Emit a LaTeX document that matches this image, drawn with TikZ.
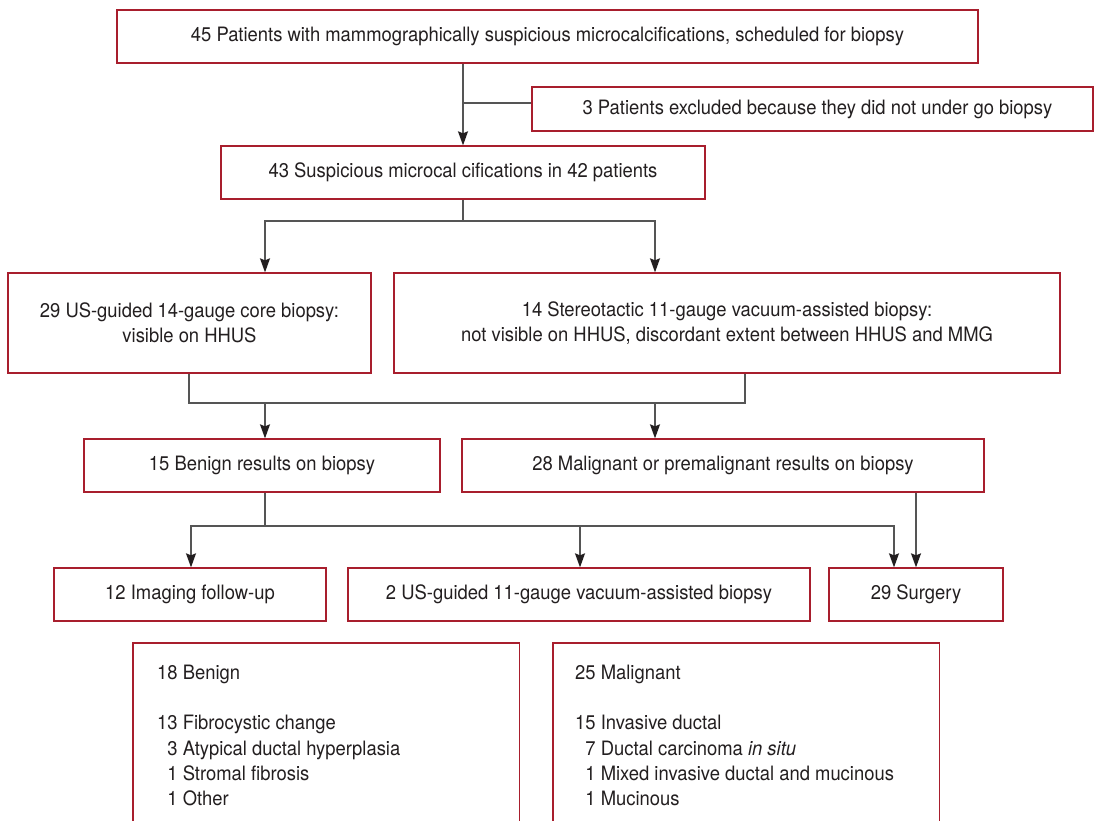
\documentclass[tikz,border=0pt]{standalone}
\usepackage{fontspec}
\setmainfont{TeX Gyre Heros}[FakeStretch=0.93]
\usetikzlibrary{arrows.meta}
\definecolor{boxred}{RGB}{168,30,45}
\definecolor{txt}{RGB}{35,31,32}
\definecolor{conncol}{RGB}{85,85,85}
\begin{document}
\begin{tikzpicture}[x=1pt,y=-1pt,
  box/.style={draw=boxred,line width=1.3pt,text=txt,inner sep=0pt,align=center,
    font=\fontsize{19.8}{25.3}\selectfont},
  lst/.style={text=txt,inner sep=0pt,align=left,font=\fontsize{19.8}{25.3}\selectfont},
  conn/.style={draw=conncol,line width=1.3pt},
  arr/.style={conn,-{Stealth[length=14pt,width=10pt,inset=2pt,color=txt]}},
  ]
\useasboundingbox (0,0) rectangle (1096,821);
\clip (0,0) rectangle (1096,821);
\fill[white] (0,0) rectangle (1096,821);

% boxes
\node[box,minimum width=861pt,minimum height=53pt] (top) at (547.5,36.5)
  {45 Patients with mammographically suspicious microcalcifications, scheduled for biopsy};
\node[box,minimum width=561pt,minimum height=44pt] (excl) at (812.5,109)
  {\hspace*{10pt}3 Patients excluded because they did not under go biopsy};
\node[box,minimum width=484pt,minimum height=53pt] (box2) at (463,172.5)
  {43 Suspicious microcal cifications in 42 patients};
\node[box,minimum width=363pt,minimum height=100pt] (b3L) at (189.5,323)
  {29 US-guided 14-gauge core biopsy:\\visible on HHUS};
\node[box,minimum width=666pt,minimum height=100pt] (b3R) at (727,323)
  {14 Stereotactic 11-gauge vacuum-assisted biopsy:\\not visible on HHUS, discordant extent between HHUS and MMG};
\node[box,minimum width=356pt,minimum height=53pt] (b4L) at (262,465.5)
  {15 Benign results on biopsy};
\node[box,minimum width=522pt,minimum height=53pt] (b4R) at (723,465.5)
  {28 Malignant or premalignant results on biopsy};
\node[box,minimum width=272pt,minimum height=53pt] (r5a) at (190,594.5)
  {12 Imaging follow-up};
\node[box,minimum width=462pt,minimum height=53pt] (r5b) at (579,594.5)
  {2 US-guided 11-gauge vacuum-assisted biopsy};
\node[box,minimum width=174pt,minimum height=53pt] (r5c) at (916,594.5)
  {29 Surgery};

% bottom open boxes
\node[inner sep=0pt,minimum width=386pt,minimum height=220pt,anchor=north west] (bL) at (133,643) {};
\node[inner sep=0pt,minimum width=386pt,minimum height=220pt,anchor=north west] (bR) at (553,643) {};
\draw[draw=boxred,line width=1.3pt] (bL.south west) -- (bL.north west) -- (bL.north east) -- (bL.south east);
\draw[draw=boxred,line width=1.3pt] (bR.south west) -- (bR.north west) -- (bR.north east) -- (bR.south east);
\node[lst,anchor=north west] (bLt) at (157,664.5)
  {18 Benign\\[25.3pt]13 Fibrocystic change\\\phantom{1}3 Atypical ductal hyperplasia\\\phantom{1}1 Stromal fibrosis\\\phantom{1}1 Other};
\node[lst,anchor=north west] (bRt) at (575,664.5)
  {25 Malignant\\[25.3pt]15 Invasive ductal\\\phantom{1}7 Ductal carcinoma \textit{in situ}\\\phantom{1}1 Mixed invasive ductal and mucinous\\\phantom{1}1 Mucinous};

% helper coordinates
\coordinate (x1) at (463,0);
\coordinate (xa) at (265,0);
\coordinate (xb) at (655,0);
\coordinate (xc) at (189,0);
\coordinate (xd) at (745,0);
\coordinate (xe) at (191,0);
\coordinate (xf) at (580,0);
\coordinate (xg) at (894,0);
\coordinate (xh) at (916,0);
\coordinate (y1) at (0,103);
\coordinate (y2) at (0,221);
\coordinate (y3) at (0,403);
\coordinate (y4) at (0,526);

% connectors
\draw[arr] (top.south -| x1) -- (box2.north -| x1);
\draw[conn] (excl.west |- y1) -- (x1 |- y1);
\draw[conn] (box2.south -| x1) -- (x1 |- y2);
\draw[arr] (x1 |- y2) -- (xa |- y2) -- (b3L.north -| xa);
\draw[arr] (x1 |- y2) -- (xb |- y2) -- (b3R.north -| xb);
\draw[conn] (b3L.south -| xc) -- (xc |- y3) -- (xd |- y3) -- (b3R.south -| xd);
\draw[arr] (xa |- y3) -- (b4L.north -| xa);
\draw[arr] (xb |- y3) -- (b4R.north -| xb);
\draw[conn] (b4L.south -| xa) -- (xa |- y4);
\draw[arr] (xa |- y4) -- (xe |- y4) -- (r5a.north -| xe);
\draw[arr] (xa |- y4) -- (xg |- y4) -- (r5c.north -| xg);
\draw[arr] (xf |- y4) -- (r5b.north -| xf);
\draw[arr] (b4R.south -| xh) -- (r5c.north -| xh);
\end{tikzpicture}
\end{document}
